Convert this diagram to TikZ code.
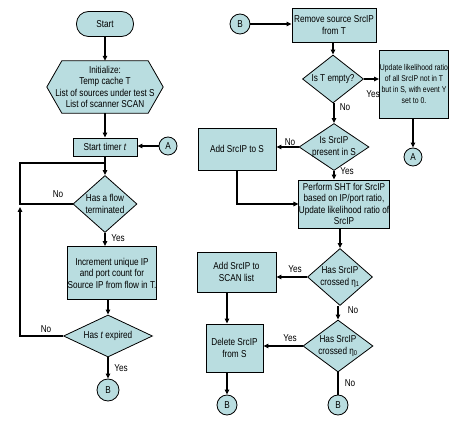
\documentclass[tikz,border=0pt]{standalone}
\usepackage{fontspec}
\setmainfont{Liberation Sans}[FakeStretch=0.82]
\usetikzlibrary{shapes.geometric,arrows.meta,backgrounds}
\definecolor{flowfill}{RGB}{185,221,224}

\begin{document}
\begin{tikzpicture}[x=1pt, y=-1pt,
      >={Triangle[length=5pt,width=4.5pt]},
      every node/.style={font=\fontsize{10}{11.5}\selectfont},
      every label/.style={align=center},
      termbox/.style={rectangle, rounded corners=12pt, draw=black, fill=flowfill,
        line width=0.8pt, minimum width=57pt, minimum height=25pt},
      procbox/.style={rectangle, draw=black, fill=flowfill, line width=0.8pt,
        align=center, inner sep=0pt},
      decision/.style={diamond, draw=black, fill=flowfill, line width=0.8pt,
        inner sep=0pt},
      conn/.style={circle, draw=black, fill=flowfill, line width=0.8pt,
        inner sep=0pt, minimum size=20pt},
      link/.style={line width=1.2pt}]

    \useasboundingbox (0,0) rectangle (456,422);

    % left column
    \node[termbox] (start) at (105,24) {Start};
    \node[align=center, inner sep=0pt, minimum width=116pt, minimum height=52pt] (init) at (105,87)
      {Initialize:\\Temp cache T\\List of sources under test S\\List of scanner SCAN};
    \begin{scope}[on background layer]
      \draw[line width=0.8pt, fill=flowfill] (init.west) -- ([xshift=15pt]init.north west)
        -- ([xshift=-15pt]init.north east) -- (init.east)
        -- ([xshift=-15pt]init.south east) -- ([xshift=15pt]init.south west) -- cycle;
    \end{scope}
    \node[procbox, minimum width=64pt, minimum height=18pt] (timer) at (105,147) {Start timer \textit{t}};
    \node[conn, minimum size=18pt] (a1) at (168,146) {A};
    \node[decision, minimum width=64pt, minimum height=57pt,
      label=center:{Has a flow\\terminated}] (flow) at (105,204) {};
    \node[procbox, minimum width=89pt, minimum height=53pt] (incr) at (112,273)
      {Increment unique IP\\and port count for\\Source IP from flow in T.};
    \node[decision, minimum width=89pt, minimum height=42pt,
      label=center:{Has \textit{t} expired}] (expire) at (108,336) {};
    \node[conn, minimum size=22pt] (b1) at (108,390) {B};

    % right column
    \node[conn] (b2) at (240,24) {B};
    \node[procbox, minimum width=84pt, minimum height=34pt] (remove) at (334,25) {Remove source SrcIP\\from T};
    \node[decision, minimum width=61pt, minimum height=48pt,
      label=center:{Is T empty?}] (tempty) at (333,79) {};
    \node[procbox, minimum width=69pt, minimum height=68pt, font=\fontsize{8.4}{11}\selectfont] (update) at (414,84)
      {Update likelihood ratio\\of all SrcIP not in T\\but in S, with event Y\\set to 0.};
    \node[conn, minimum size=18pt] (a2) at (413,157) {A};
    \node[decision, minimum width=70pt, minimum height=47pt,
      label=center:{Is SrcIP\\present in S}] (present) at (334,147) {};
    \node[procbox, minimum width=78pt, minimum height=42pt] (adds) at (237,149) {Add SrcIP to S};
    \node[procbox, minimum width=90pt, minimum height=48pt] (sht) at (344,204)
      {Perform SHT for SrcIP\\based on IP/port ratio,\\Update likelihood ratio of\\SrcIP};
    \node[decision, minimum width=65pt, minimum height=57pt,
      label=center:{Has SrcIP\\crossed η\textsubscript{1}}] (cross1) at (340,277) {};
    \node[procbox, minimum width=79pt, minimum height=40pt] (scan) at (236.5,272) {Add SrcIP to\\SCAN list};
    \node[decision, minimum width=70pt, minimum height=52pt,
      label=center:{Has SrcIP\\crossed η\textsubscript{0}}] (cross0) at (338,346) {};
    \node[procbox, minimum width=57pt, minimum height=48pt] (delete) at (234.5,348) {Delete SrcIP\\from S};
    \node[conn] (b3) at (227,405) {B};
    \node[conn] (b4) at (338,405) {B};

    % yes / no
    \node (no1) at (58,194) {No};
    \node (yes1) at (118,238) {Yes};
    \node (no2) at (46,329) {No};
    \node (yes2) at (121,368) {Yes};
    \node (yes3) at (373,94) {Yes};
    \node (no3) at (345,107) {No};
    \node (no4) at (290,142) {No};
    \node (yes4) at (347,171) {Yes};
    \node (yes5) at (295,269) {Yes};
    \node (no5) at (353,310) {No};
    \node (yes6) at (290,338) {Yes};
    \node (no6) at (350,383) {No};

    \coordinate (loopbot) at (20,207);
    \coordinate (looptop) at (20,163);

    \draw[link,->] (start) -- (init);
    \draw[link,->] (init) -- (timer);
    \draw[link,->] (a1.west) -- (a1.west -| timer.east);
    \draw[link,->] (timer) -- (flow);
    \draw[link] (flow.west) -| (looptop) -- (looptop -| flow.north);
    \draw[link,->] (expire.west) -| (loopbot);
    \draw[link,->] (flow.south) -- (flow.south |- incr.north);
    \draw[link,->] (expire.north |- incr.south) -- (expire.north);
    \draw[link,->] (expire) -- (b1);

    \draw[link,->] (b2.east) -- (b2.east -| remove.west);
    \draw[link,->] (tempty.north |- remove.south) -- (tempty.north);
    \draw[link,->] (tempty.east) -- (tempty.east -| update.west);
    \draw[link,->] (a2 |- update.south) -- (a2.north);
    \draw[link,->] (present.north |- tempty.south) -- (present.north);
    \draw[link,->] (present.west) -- (present.west -| adds.east);
    \draw[link,->] (present.south) -- (present.south |- sht.north);
    \draw[link,->] (adds.south) |- (sht.west);
    \draw[link,->] (cross1.north |- sht.south) -- (cross1.north);
    \draw[link,->] (cross1.west) -- (cross1.west -| scan.east);
    \draw[link,->] (cross0.north |- cross1.south) -- (cross0.north);
    \draw[link,->] (b3 |- scan.south) -- (b3 |- delete.north);
    \draw[link,->] (cross0.west) -- (cross0.west -| delete.east);
    \draw[link,->] (b3 |- delete.south) -- (b3.north);
    \draw[link] (cross0.south) -- (b4.north);

  \end{tikzpicture}
\end{document}
